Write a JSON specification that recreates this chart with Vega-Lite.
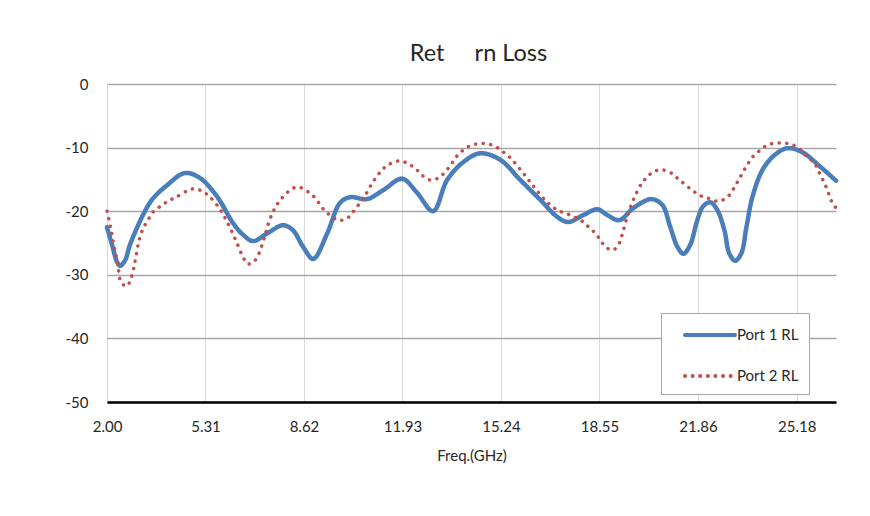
{
  "$schema": "https://vega.github.io/schema/vega-lite/v6.json",
  "width": 729,
  "height": 318,
  "autosize": {"type": "none"},
  "padding": {"left": 107, "top": 84, "right": 34, "bottom": 114},
  "background": "white",
  "config": {"view": {"stroke": null}, "font": "Lato"},
  "title": {"text": "Ret\u00a0\u00a0\u00a0\u00a0\u00a0rn Loss", "fontSize": 23.5, "font": "Lato", "fontWeight": "normal", "color": "#262626", "offset": 12, "dx": 7},
  "datasets": {
    "p1": [
      {"f": 2.0, "v": -22.5, "s": "Port 1 RL"}, {"f": 2.17, "v": -25.3, "s": "Port 1 RL"}, {"f": 2.34, "v": -28.0, "s": "Port 1 RL"}, {"f": 2.44, "v": -28.6, "s": "Port 1 RL"},
      {"f": 2.61, "v": -27.7, "s": "Port 1 RL"}, {"f": 2.77, "v": -25.3, "s": "Port 1 RL"}, {"f": 3.01, "v": -22.6, "s": "Port 1 RL"}, {"f": 3.21, "v": -20.6, "s": "Port 1 RL"},
      {"f": 3.51, "v": -18.2, "s": "Port 1 RL"}, {"f": 4.02, "v": -15.9, "s": "Port 1 RL"}, {"f": 4.62, "v": -14.0, "s": "Port 1 RL"}, {"f": 5.13, "v": -14.8, "s": "Port 1 RL"},
      {"f": 5.7, "v": -17.7, "s": "Port 1 RL"}, {"f": 6.24, "v": -21.9, "s": "Port 1 RL"}, {"f": 6.57, "v": -23.7, "s": "Port 1 RL"}, {"f": 6.91, "v": -24.7, "s": "Port 1 RL"},
      {"f": 7.38, "v": -23.5, "s": "Port 1 RL"}, {"f": 7.92, "v": -22.2, "s": "Port 1 RL"}, {"f": 8.25, "v": -23.0, "s": "Port 1 RL"}, {"f": 8.59, "v": -25.6, "s": "Port 1 RL"},
      {"f": 8.93, "v": -27.5, "s": "Port 1 RL"}, {"f": 9.4, "v": -23.5, "s": "Port 1 RL"}, {"f": 9.83, "v": -18.7, "s": "Port 1 RL"}, {"f": 10.17, "v": -17.8, "s": "Port 1 RL"},
      {"f": 10.74, "v": -18.1, "s": "Port 1 RL"}, {"f": 11.28, "v": -16.7, "s": "Port 1 RL"}, {"f": 11.92, "v": -14.9, "s": "Port 1 RL"}, {"f": 12.42, "v": -17.1, "s": "Port 1 RL"},
      {"f": 12.96, "v": -20.0, "s": "Port 1 RL"}, {"f": 13.43, "v": -15.1, "s": "Port 1 RL"}, {"f": 13.97, "v": -12.3, "s": "Port 1 RL"}, {"f": 14.54, "v": -10.9, "s": "Port 1 RL"},
      {"f": 15.21, "v": -11.9, "s": "Port 1 RL"}, {"f": 15.89, "v": -15.1, "s": "Port 1 RL"}, {"f": 16.56, "v": -18.2, "s": "Port 1 RL"}, {"f": 17.13, "v": -20.9, "s": "Port 1 RL"},
      {"f": 17.5, "v": -21.7, "s": "Port 1 RL"}, {"f": 18.01, "v": -20.6, "s": "Port 1 RL"}, {"f": 18.48, "v": -19.7, "s": "Port 1 RL"}, {"f": 18.81, "v": -20.6, "s": "Port 1 RL"},
      {"f": 19.22, "v": -21.4, "s": "Port 1 RL"}, {"f": 19.69, "v": -19.5, "s": "Port 1 RL"}, {"f": 20.29, "v": -18.1, "s": "Port 1 RL"}, {"f": 20.66, "v": -19.0, "s": "Port 1 RL"},
      {"f": 20.93, "v": -22.5, "s": "Port 1 RL"}, {"f": 21.17, "v": -25.6, "s": "Port 1 RL"}, {"f": 21.37, "v": -26.7, "s": "Port 1 RL"}, {"f": 21.6, "v": -25.3, "s": "Port 1 RL"},
      {"f": 21.84, "v": -21.4, "s": "Port 1 RL"}, {"f": 22.04, "v": -19.2, "s": "Port 1 RL"}, {"f": 22.28, "v": -18.6, "s": "Port 1 RL"}, {"f": 22.51, "v": -19.8, "s": "Port 1 RL"},
      {"f": 22.75, "v": -23.0, "s": "Port 1 RL"}, {"f": 22.91, "v": -26.6, "s": "Port 1 RL"}, {"f": 23.11, "v": -27.8, "s": "Port 1 RL"}, {"f": 23.32, "v": -26.6, "s": "Port 1 RL"},
      {"f": 23.49, "v": -22.5, "s": "Port 1 RL"}, {"f": 23.69, "v": -17.8, "s": "Port 1 RL"}, {"f": 24.03, "v": -13.5, "s": "Port 1 RL"}, {"f": 24.43, "v": -11.2, "s": "Port 1 RL"},
      {"f": 24.86, "v": -10.1, "s": "Port 1 RL"}, {"f": 25.36, "v": -10.7, "s": "Port 1 RL"}, {"f": 25.97, "v": -13.0, "s": "Port 1 RL"}, {"f": 26.5, "v": -15.2, "s": "Port 1 RL"}
    ],
    "p2": [
      {"f": 2.0, "v": -20.0, "s": "Port 2 RL"}, {"f": 2.13, "v": -22.8, "s": "Port 2 RL"}, {"f": 2.24, "v": -25.6, "s": "Port 2 RL"}, {"f": 2.36, "v": -28.3, "s": "Port 2 RL"},
      {"f": 2.47, "v": -31.1, "s": "Port 2 RL"}, {"f": 2.66, "v": -31.8, "s": "Port 2 RL"}, {"f": 2.81, "v": -30.5, "s": "Port 2 RL"}, {"f": 2.94, "v": -28.0, "s": "Port 2 RL"},
      {"f": 3.05, "v": -25.2, "s": "Port 2 RL"}, {"f": 3.13, "v": -23.7, "s": "Port 2 RL"}, {"f": 3.24, "v": -22.5, "s": "Port 2 RL"}, {"f": 3.4, "v": -21.2, "s": "Port 2 RL"},
      {"f": 3.55, "v": -20.1, "s": "Port 2 RL"}, {"f": 3.8, "v": -19.2, "s": "Port 2 RL"}, {"f": 4.06, "v": -18.4, "s": "Port 2 RL"}, {"f": 4.32, "v": -17.8, "s": "Port 2 RL"},
      {"f": 4.86, "v": -16.5, "s": "Port 2 RL"}, {"f": 5.13, "v": -16.7, "s": "Port 2 RL"}, {"f": 5.4, "v": -17.5, "s": "Port 2 RL"}, {"f": 5.8, "v": -19.7, "s": "Port 2 RL"},
      {"f": 6.07, "v": -22.0, "s": "Port 2 RL"}, {"f": 6.34, "v": -24.7, "s": "Port 2 RL"}, {"f": 6.57, "v": -27.2, "s": "Port 2 RL"}, {"f": 6.74, "v": -28.3, "s": "Port 2 RL"},
      {"f": 6.98, "v": -27.7, "s": "Port 2 RL"}, {"f": 7.21, "v": -25.3, "s": "Port 2 RL"}, {"f": 7.48, "v": -21.2, "s": "Port 2 RL"}, {"f": 7.75, "v": -18.7, "s": "Port 2 RL"},
      {"f": 8.15, "v": -16.7, "s": "Port 2 RL"}, {"f": 8.42, "v": -16.2, "s": "Port 2 RL"}, {"f": 8.93, "v": -17.6, "s": "Port 2 RL"}, {"f": 9.3, "v": -19.8, "s": "Port 2 RL"},
      {"f": 9.77, "v": -21.4, "s": "Port 2 RL"}, {"f": 10.07, "v": -21.1, "s": "Port 2 RL"}, {"f": 10.27, "v": -20.1, "s": "Port 2 RL"}, {"f": 10.47, "v": -18.9, "s": "Port 2 RL"},
      {"f": 10.64, "v": -17.8, "s": "Port 2 RL"}, {"f": 10.94, "v": -15.4, "s": "Port 2 RL"}, {"f": 11.31, "v": -13.2, "s": "Port 2 RL"}, {"f": 11.58, "v": -12.4, "s": "Port 2 RL"},
      {"f": 11.85, "v": -12.1, "s": "Port 2 RL"}, {"f": 12.15, "v": -12.6, "s": "Port 2 RL"}, {"f": 12.39, "v": -13.4, "s": "Port 2 RL"}, {"f": 12.63, "v": -14.5, "s": "Port 2 RL"},
      {"f": 12.86, "v": -15.1, "s": "Port 2 RL"}, {"f": 13.13, "v": -14.8, "s": "Port 2 RL"}, {"f": 13.37, "v": -13.8, "s": "Port 2 RL"}, {"f": 13.57, "v": -12.6, "s": "Port 2 RL"},
      {"f": 13.73, "v": -11.5, "s": "Port 2 RL"}, {"f": 13.94, "v": -10.5, "s": "Port 2 RL"}, {"f": 14.21, "v": -9.7, "s": "Port 2 RL"}, {"f": 14.47, "v": -9.4, "s": "Port 2 RL"},
      {"f": 14.78, "v": -9.4, "s": "Port 2 RL"}, {"f": 15.08, "v": -9.9, "s": "Port 2 RL"}, {"f": 15.32, "v": -10.7, "s": "Port 2 RL"}, {"f": 15.55, "v": -11.6, "s": "Port 2 RL"},
      {"f": 15.95, "v": -13.8, "s": "Port 2 RL"}, {"f": 16.32, "v": -16.0, "s": "Port 2 RL"}, {"f": 16.69, "v": -18.1, "s": "Port 2 RL"}, {"f": 16.9, "v": -19.0, "s": "Port 2 RL"},
      {"f": 17.16, "v": -19.9, "s": "Port 2 RL"}, {"f": 17.47, "v": -20.4, "s": "Port 2 RL"}, {"f": 17.74, "v": -21.0, "s": "Port 2 RL"}, {"f": 18.01, "v": -21.7, "s": "Port 2 RL"},
      {"f": 18.21, "v": -22.6, "s": "Port 2 RL"}, {"f": 18.44, "v": -23.6, "s": "Port 2 RL"}, {"f": 18.61, "v": -24.8, "s": "Port 2 RL"}, {"f": 18.81, "v": -25.8, "s": "Port 2 RL"},
      {"f": 19.01, "v": -26.1, "s": "Port 2 RL"}, {"f": 19.22, "v": -25.0, "s": "Port 2 RL"}, {"f": 19.32, "v": -23.6, "s": "Port 2 RL"}, {"f": 19.48, "v": -20.9, "s": "Port 2 RL"},
      {"f": 19.69, "v": -18.2, "s": "Port 2 RL"}, {"f": 19.96, "v": -15.7, "s": "Port 2 RL"}, {"f": 20.16, "v": -14.6, "s": "Port 2 RL"}, {"f": 20.36, "v": -13.8, "s": "Port 2 RL"},
      {"f": 20.66, "v": -13.5, "s": "Port 2 RL"}, {"f": 20.96, "v": -14.0, "s": "Port 2 RL"}, {"f": 21.17, "v": -14.8, "s": "Port 2 RL"}, {"f": 21.4, "v": -15.7, "s": "Port 2 RL"},
      {"f": 21.67, "v": -16.7, "s": "Port 2 RL"}, {"f": 21.91, "v": -17.5, "s": "Port 2 RL"}, {"f": 22.17, "v": -17.9, "s": "Port 2 RL"}, {"f": 22.48, "v": -18.4, "s": "Port 2 RL"},
      {"f": 22.71, "v": -18.2, "s": "Port 2 RL"}, {"f": 22.95, "v": -17.3, "s": "Port 2 RL"}, {"f": 23.11, "v": -16.0, "s": "Port 2 RL"}, {"f": 23.25, "v": -14.9, "s": "Port 2 RL"},
      {"f": 23.39, "v": -13.7, "s": "Port 2 RL"}, {"f": 23.56, "v": -12.4, "s": "Port 2 RL"}, {"f": 23.73, "v": -11.3, "s": "Port 2 RL"}, {"f": 23.96, "v": -10.4, "s": "Port 2 RL"},
      {"f": 24.19, "v": -9.6, "s": "Port 2 RL"}, {"f": 24.49, "v": -9.3, "s": "Port 2 RL"}, {"f": 24.79, "v": -9.3, "s": "Port 2 RL"}, {"f": 25.06, "v": -9.6, "s": "Port 2 RL"},
      {"f": 25.33, "v": -10.4, "s": "Port 2 RL"}, {"f": 25.5, "v": -11.3, "s": "Port 2 RL"}, {"f": 25.77, "v": -12.4, "s": "Port 2 RL"}, {"f": 25.91, "v": -13.7, "s": "Port 2 RL"},
      {"f": 26.04, "v": -14.9, "s": "Port 2 RL"}, {"f": 26.17, "v": -16.2, "s": "Port 2 RL"}, {"f": 26.28, "v": -17.6, "s": "Port 2 RL"}, {"f": 26.38, "v": -18.7, "s": "Port 2 RL"},
      {"f": 26.5, "v": -19.5, "s": "Port 2 RL"}
    ]
  },
  "layer": [
    {
      "data": {"name": "p1"},
      "mark": {"type": "line", "interpolate": "catmull-rom", "strokeCap": "round", "strokeJoin": "round", "strokeWidth": 4.5},
      "encoding": {
        "x": {
          "field": "f", "type": "quantitative",
          "scale": {"domain": [2, 26.5], "nice": false, "zero": false},
          "axis": {
            "values": [2, 5.31, 8.62, 11.93, 15.24, 18.55, 21.86, 25.18],
            "format": ".2f",
            "labelFlush": false, "labelOverlap": false,
            "grid": true, "gridColor": "#d9d9d9", "gridWidth": 1,
            "ticks": false,
            "domainColor": "#000000", "domainWidth": 2.5,
            "labelFont": "Lato", "labelFontSize": 15, "labelColor": "#262626", "labelPadding": 17,
            "title": "Freq.(GHz)", "titleFont": "Lato", "titleFontSize": 15, "titleFontWeight": "normal", "titleColor": "#262626", "titlePadding": 14
          }
        },
        "y": {
          "field": "v", "type": "quantitative",
          "scale": {"domain": [-50, 0], "nice": false},
          "axis": {
            "values": [-50, -40, -30, -20, -10, 0],
            "labelExpr": "toString(datum.value)",
            "grid": true, "gridColor": "#a6a6a6", "gridWidth": 1.5,
            "domain": false, "ticks": false,
            "labelFont": "Lato", "labelFontSize": 15, "labelColor": "#262626", "labelPadding": 19,
            "title": null
          }
        },
        "color": {
          "field": "s", "type": "nominal",
          "scale": {"domain": ["Port 1 RL", "Port 2 RL"], "range": ["#4a7ebb", "#c0504d"]},
          "legend": {
            "title": null, "orient": "none", "legendX": 554, "legendY": 229,
            "fillColor": "white", "strokeColor": "#a6a6a6", "padding": 10,
            "symbolType": "M-2.5,0H2.5", "symbolSize": 400, "symbolOffset": 27, "symbolStrokeWidth": 4,
            "labelFont": "Lato", "labelFontSize": 15, "labelColor": "#262626", "labelOffset": 15,
            "rowPadding": 21,
            "encode": {"symbols": {"update": {"strokeCap": {"value": "round"}}}}
          }
        },
        "strokeDash": {
          "field": "s", "type": "nominal",
          "scale": {"domain": ["Port 1 RL", "Port 2 RL"], "range": [[1, 0], [0.1, 7.5]]},
          "legend": {
            "title": null, "orient": "none", "legendX": 554, "legendY": 229,
            "fillColor": "white", "strokeColor": "#a6a6a6", "padding": 10,
            "symbolType": "M-2.5,0H2.5", "symbolSize": 400, "symbolOffset": 27, "symbolStrokeWidth": 4,
            "labelFont": "Lato", "labelFontSize": 15, "labelColor": "#262626", "labelOffset": 15,
            "rowPadding": 21,
            "encode": {"symbols": {"update": {"strokeCap": {"value": "round"}}}}
          }
        }
      }
    },
    {
      "data": {"name": "p2"},
      "mark": {"type": "line", "interpolate": "catmull-rom", "strokeCap": "round", "strokeJoin": "round", "strokeWidth": 3.5},
      "encoding": {
        "x": {"field": "f", "type": "quantitative"},
        "y": {"field": "v", "type": "quantitative"},
        "color": {"field": "s", "type": "nominal"},
        "strokeDash": {"field": "s", "type": "nominal"}
      }
    }
  ]
}
